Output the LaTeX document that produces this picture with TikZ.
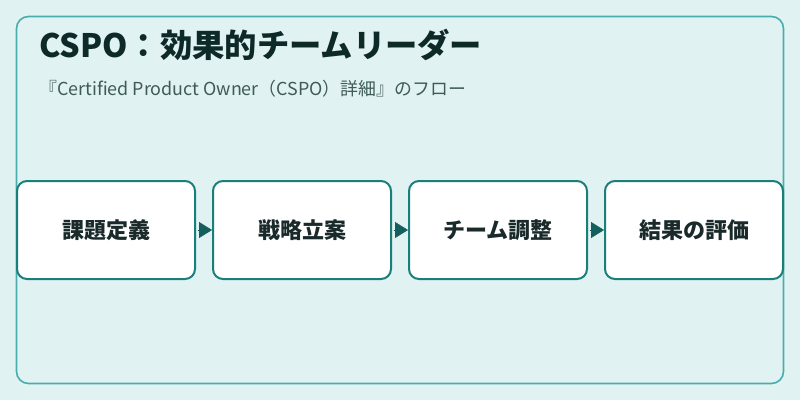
\documentclass[tikz,border=0pt]{standalone}
\usepackage{fontspec}
\setmainfont{Noto Sans CJK JP}
\usetikzlibrary{arrows.meta}
\definecolor{bgc}{HTML}{E0F3F2}
\definecolor{framec}{HTML}{4AADAD}
\definecolor{boxc}{HTML}{1A7F7A}
\definecolor{arrc}{HTML}{155E5E}
\definecolor{titlec}{HTML}{0E2A28}
\definecolor{subc}{HTML}{3F5A58}
\definecolor{textc}{HTML}{1A2A2A}
\tikzset{
  stepbox/.style={draw=boxc, line width=2pt, fill=white, rounded corners=10pt,
    minimum width=178pt, minimum height=98pt, inner sep=0pt,
    font=\fontsize{22}{26}\selectfont\bfseries, text=textc},
  flow/.style={draw=arrc, fill=arrc, line width=0.4pt, shorten <=1.5pt,
    -{Triangle[length=13pt,width=16pt]}}
}
\begin{document}
\begin{tikzpicture}[x=1pt,y=-1pt]
\useasboundingbox (0,0) rectangle (800,400);
\fill[bgc] (0,0) rectangle (800,400);
\draw[framec, line width=1.6pt, rounded corners=12pt] (16.5,16.5) rectangle (783.5,383.5);
\node[anchor=base west, inner sep=0pt, text=titlec, font=\fontsize{32.3}{38}\selectfont\bfseries] (title) at (39,57) {CSPO：効果的チームリーダー};
\node[anchor=base west, inner sep=0pt, text=subc, font=\fontsize{17.9}{21}\selectfont] (sub) at (39,95) {『Certified Product Owner（CSPO）詳細』のフロー};
\node[stepbox] (b1) at (106,230) {課題定義};
\node[stepbox] (b2) at (302,230) {戦略立案};
\node[stepbox] (b3) at (498,230) {チーム調整};
\node[stepbox] (b4) at (694,230) {結果の評価};
\draw[flow] (b1.east) -- (b2.west);
\draw[flow] (b2.east) -- (b3.west);
\draw[flow] (b3.east) -- (b4.west);
\end{tikzpicture}
\end{document}
